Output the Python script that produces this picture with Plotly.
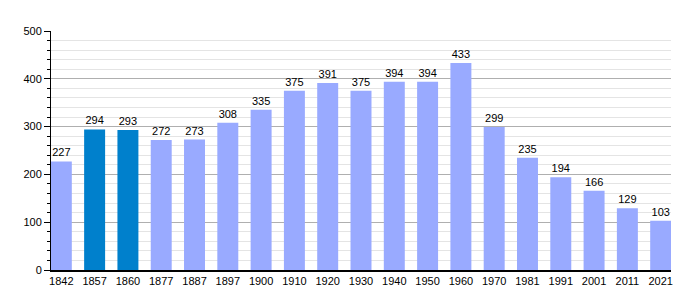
import plotly.graph_objects as go

years = ["1842", "1857", "1860", "1877", "1887", "1897", "1900", "1910", "1920", "1930",
         "1940", "1950", "1960", "1970", "1981", "1991", "2001", "2011", "2021"]
population = [227, 294, 293, 272, 273, 308, 335, 375, 391, 375, 394, 394, 433, 299, 235, 194, 166, 129, 103]
highlight = ["1857", "1860"]

light = "rgb(153,170,255)"
dark = "rgb(0,128,204)"
colors = [dark if y in highlight else light for y in years]

fig = go.Figure(go.Bar(
    x=list(range(len(years))), y=population,
    marker=dict(color=colors, line=dict(width=0)),
    text=[str(v) for v in population], textposition="outside",
    textfont=dict(family="Liberation Sans, Arial", size=11, color="black"),
    cliponaxis=False,
))

fig.update_layout(
    width=700, height=300,
    margin=dict(l=51, r=29, t=31, b=30),
    plot_bgcolor="white", paper_bgcolor="white",
    bargap=0.37, showlegend=False,
    font=dict(family="Liberation Sans, Arial", size=11, color="black"),
    xaxis=dict(
        range=[-0.31, 18.31], tickmode="array",
        tickvals=list(range(len(years))), ticktext=years,
        showline=True, linecolor="black", linewidth=1.5,
        showgrid=False, ticks="", zeroline=False, fixedrange=True,
    ),
    yaxis=dict(
        range=[0, 500], tickmode="linear", tick0=0, dtick=100,
        showline=True, linecolor="black", linewidth=1,
        showgrid=True, gridcolor="rgb(175,175,175)", gridwidth=1,
        ticks="outside", ticklen=6, tickcolor="black",
        zeroline=False,
        minor=dict(dtick=20, showgrid=True, gridcolor="rgb(228,228,228)",
                   ticks="outside", ticklen=3, tickcolor="black"),
    ),
)

fig.write_html("out.html")
